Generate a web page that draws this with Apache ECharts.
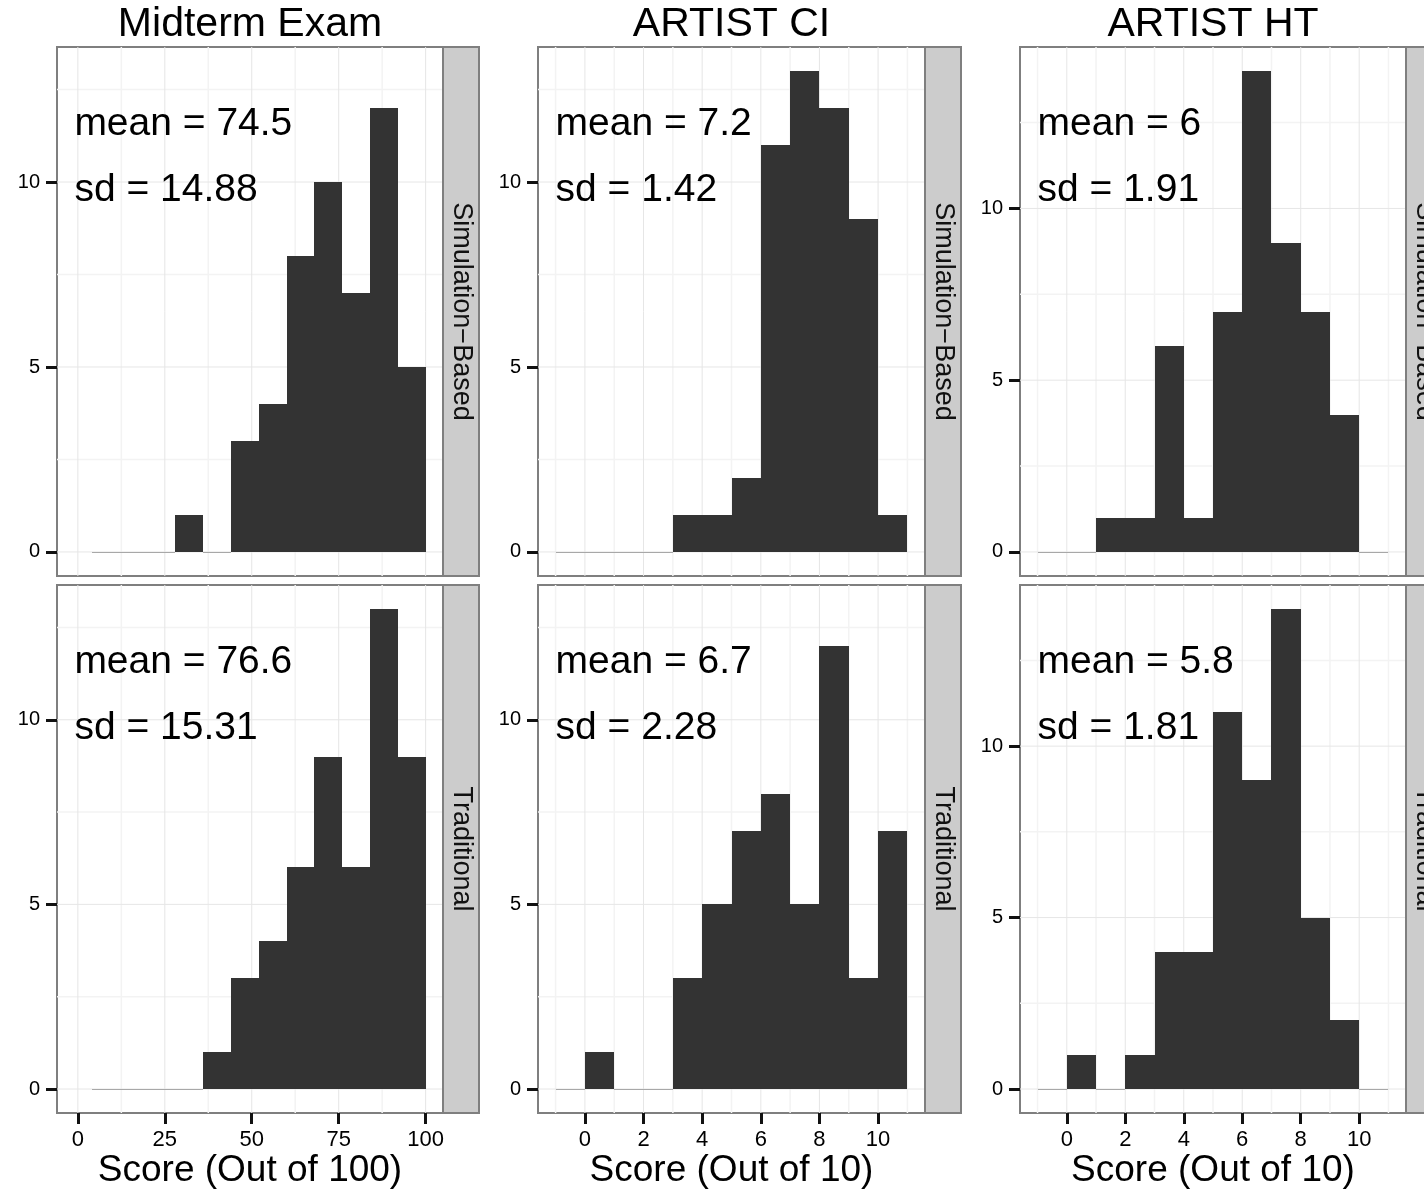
<!DOCTYPE html>
<html><head><meta charset="utf-8">
<script src="https://cdn.jsdelivr.net/npm/echarts@6/dist/echarts.min.js"></script>
<style>html,body{margin:0;padding:0;background:#fff}#c{width:1424px;height:1190px}</style>
</head><body><div id="c"></div>
<script>
// ---------- data ----------
const columnTitles = ['Midterm Exam', 'ARTIST CI', 'ARTIST HT'];
const rowLabels = ['Simulation\u2212Based', 'Traditional'];
const xAxisTitles = ['Score (Out of 100)', 'Score (Out of 10)', 'Score (Out of 10)'];

const midtermBreaks = [4, 12, 20, 28, 36, 44, 52, 60, 68, 76, 84, 92, 100];
const midtermSimulation = [0, 0, 0, 1, 0, 3, 4, 8, 10, 7, 12, 5];
const midtermTraditional = [0, 0, 0, 0, 1, 3, 4, 6, 9, 6, 13, 9];

const ciBreaks = [-1, 0, 1, 2, 3, 4, 5, 6, 7, 8, 9, 10, 11];
const ciSimulation = [0, 0, 0, 0, 1, 1, 2, 11, 13, 12, 9, 1];
const ciTraditional = [0, 1, 0, 0, 3, 5, 7, 8, 5, 12, 3, 7];

const htBreaks = [-1, 0, 1, 2, 3, 4, 5, 6, 7, 8, 9, 10, 11];
const htSimulation = [0, 0, 1, 1, 6, 1, 7, 14, 9, 7, 4, 0];
const htTraditional = [0, 1, 0, 1, 4, 4, 11, 9, 14, 5, 2, 0];

const midtermXTicks = [0, 25, 50, 75, 100];
const midtermXMinor = [12.5, 37.5, 62.5, 87.5];
const tenXTicks = [0, 2, 4, 6, 8, 10];
const tenXMinor = [-1, 1, 3, 5, 7, 9, 11];
const yTicks = [0, 5, 10];
const yMinor = [2.5, 7.5, 12.5];
const xLimits = [[-6, 105], [-1.6, 11.6], [-1.6, 11.6]];

const meanLabels = [['74.5', '76.6'], ['7.2', '6.7'], ['6', '5.8']];
const sdLabels = [['14.88', '15.31'], ['1.42', '2.28'], ['1.91', '1.81']];

// ---------- layout / style ----------
const FONT = '"Liberation Sans", Arial, Helvetica, sans-serif';
const panelLeft = [57, 538, 1020];
const panelWidth = [386, 387, 386];
const panelTop = [47, 585];
const panelHeight = [529, 528];
const stripWidth = 36;

const hist = [
  [midtermBreaks, midtermSimulation, midtermTraditional],
  [ciBreaks, ciSimulation, ciTraditional],
  [htBreaks, htSimulation, htTraditional]
];
const xMajors = [midtermXTicks, tenXTicks, tenXTicks];
const xMinors = [midtermXMinor, tenXMinor, tenXMinor];

const grid = [], xAxis = [], yAxis = [], series = [], graphic = [];

columnTitles.forEach((title, c) => {
  const breaks = hist[c][0];
  const rowsCounts = [hist[c][1], hist[c][2]];
  const yTop = Math.max(...rowsCounts[0], ...rowsCounts[1]);
  const ymin = -0.05 * yTop, ymax = yTop * 1.05;
  const xmin = xLimits[c][0], xmax = xLimits[c][1];

  graphic.push({
    type: 'text', x: panelLeft[c] + panelWidth[c] / 2, y: 25, z: 100,
    style: { text: title, fontSize: 41, fontFamily: FONT, fill: '#000', align: 'center', verticalAlign: 'middle' }
  });

  rowsCounts.forEach((counts, r) => {
    const gi = c * 2 + r;
    grid.push({
      left: panelLeft[c], top: panelTop[r], width: panelWidth[c], height: panelHeight[r],
      show: true, backgroundColor: '#ffffff', borderColor: '#7f7f7f', borderWidth: 2, containLabel: false
    });
    xAxis.push({
      type: 'value', gridIndex: gi, min: xmin, max: xmax, position: 'bottom',
      splitLine: { show: false }, axisLine: { show: false, onZero: false },
      axisTick: { show: r === 1, inside: false, customValues: xMajors[c], length: 11, lineStyle: { color: '#111', width: 3 } },
      axisLabel: { show: r === 1, customValues: xMajors[c], margin: 16, fontSize: 22, color: '#000', fontFamily: FONT },
      name: r === 1 ? xAxisTitles[c] : '', nameLocation: 'middle', nameGap: 39,
      nameTextStyle: { fontSize: 37, color: '#000', fontFamily: FONT }
    });
    yAxis.push({
      type: 'value', gridIndex: gi, min: ymin, max: ymax, position: 'left',
      splitLine: { show: false }, axisLine: { show: false, onZero: false },
      axisTick: { show: true, inside: false, customValues: yTicks, length: 11, lineStyle: { color: '#111', width: 3 } },
      axisLabel: { show: true, customValues: yTicks, margin: 17, fontSize: 20, color: '#000', fontFamily: FONT }
    });

    // grid lines (minor first, then major)
    const lines = [];
    xMinors[c].forEach(v => lines.push([v, 0, 1]));
    yMinor.filter(v => v < ymax).forEach(v => lines.push([v, 0, 0]));
    xMajors[c].forEach(v => lines.push([v, 1, 1]));
    yTicks.forEach(v => lines.push([v, 1, 0]));
    series.push({
      type: 'custom', xAxisIndex: gi, yAxisIndex: gi, silent: true, z: 1,
      data: lines,
      renderItem: (params, api) => {
        const v = api.value(0), major = api.value(1), isX = api.value(2);
        let p1, p2;
        if (isX) { p1 = api.coord([v, ymin]); p2 = api.coord([v, ymax]); }
        else { p1 = api.coord([xmin, v]); p2 = api.coord([xmax, v]); }
        return {
          type: 'line', shape: { x1: p1[0], y1: p1[1], x2: p2[0], y2: p2[1] },
          style: { stroke: major ? '#e6e6e6' : '#f3f3f3', lineWidth: major ? 1 : 1.5 }
        };
      }
    });

    // histogram bars
    series.push({
      type: 'custom', xAxisIndex: gi, yAxisIndex: gi, silent: true, z: 3,
      data: counts.map((n, i) => [breaks[i], breaks[i + 1], n]),
      encode: { x: [0, 1], y: 2 },
      renderItem: (params, api) => {
        const x0 = api.value(0), x1 = api.value(1), n = api.value(2);
        const a = api.coord([x0, 0]), b = api.coord([x1, n]);
        const L = Math.round(a[0]), R = Math.round(b[0]), B = Math.round(a[1]), T = Math.round(b[1]);
        if (n === 0) {
          return { type: 'line', shape: { x1: L, y1: B + 0.5, x2: R, y2: B + 0.5 }, style: { stroke: '#a8a8a8', lineWidth: 1 } };
        }
        return { type: 'rect', shape: { x: L, y: T, width: R - L, height: B - T }, style: { fill: '#333333' } };
      }
    });

    // mean / sd annotations
    const annTexts = ['mean = ' + meanLabels[c][r], 'sd = ' + sdLabels[c][r]];
    series.push({
      type: 'custom', xAxisIndex: gi, yAxisIndex: gi, silent: true, z: 5,
      data: [[-1, yTop * 0.89], [-1, yTop * 0.752]],
      renderItem: (params, api) => {
        const p = api.coord([api.value(0), api.value(1)]);
        return {
          type: 'text', x: p[0], y: p[1],
          style: { text: annTexts[params.dataIndex], fontSize: 39, fontFamily: FONT, fill: '#000', align: 'left', verticalAlign: 'middle' }
        };
      }
    });

    // facet strip
    const sx = panelLeft[c] + panelWidth[c];
    graphic.push({
      type: 'rect', z: 50,
      shape: { x: sx, y: panelTop[r], width: stripWidth, height: panelHeight[r] },
      style: { fill: '#cccccc', stroke: '#7f7f7f', lineWidth: 2 }
    });
    graphic.push({
      type: 'text', z: 51, x: sx + stripWidth / 2, y: panelTop[r] + panelHeight[r] / 2, rotation: -Math.PI / 2,
      style: { text: rowLabels[r], fontSize: 27, fontFamily: FONT, fill: '#111', align: 'center', verticalAlign: 'middle' }
    });
  });
});

const chart = echarts.init(document.getElementById('c'), null, { renderer: 'canvas' });
chart.setOption({
  backgroundColor: '#ffffff',
  animation: false,
  grid, xAxis, yAxis, series, graphic
});
</script>
</body></html>
